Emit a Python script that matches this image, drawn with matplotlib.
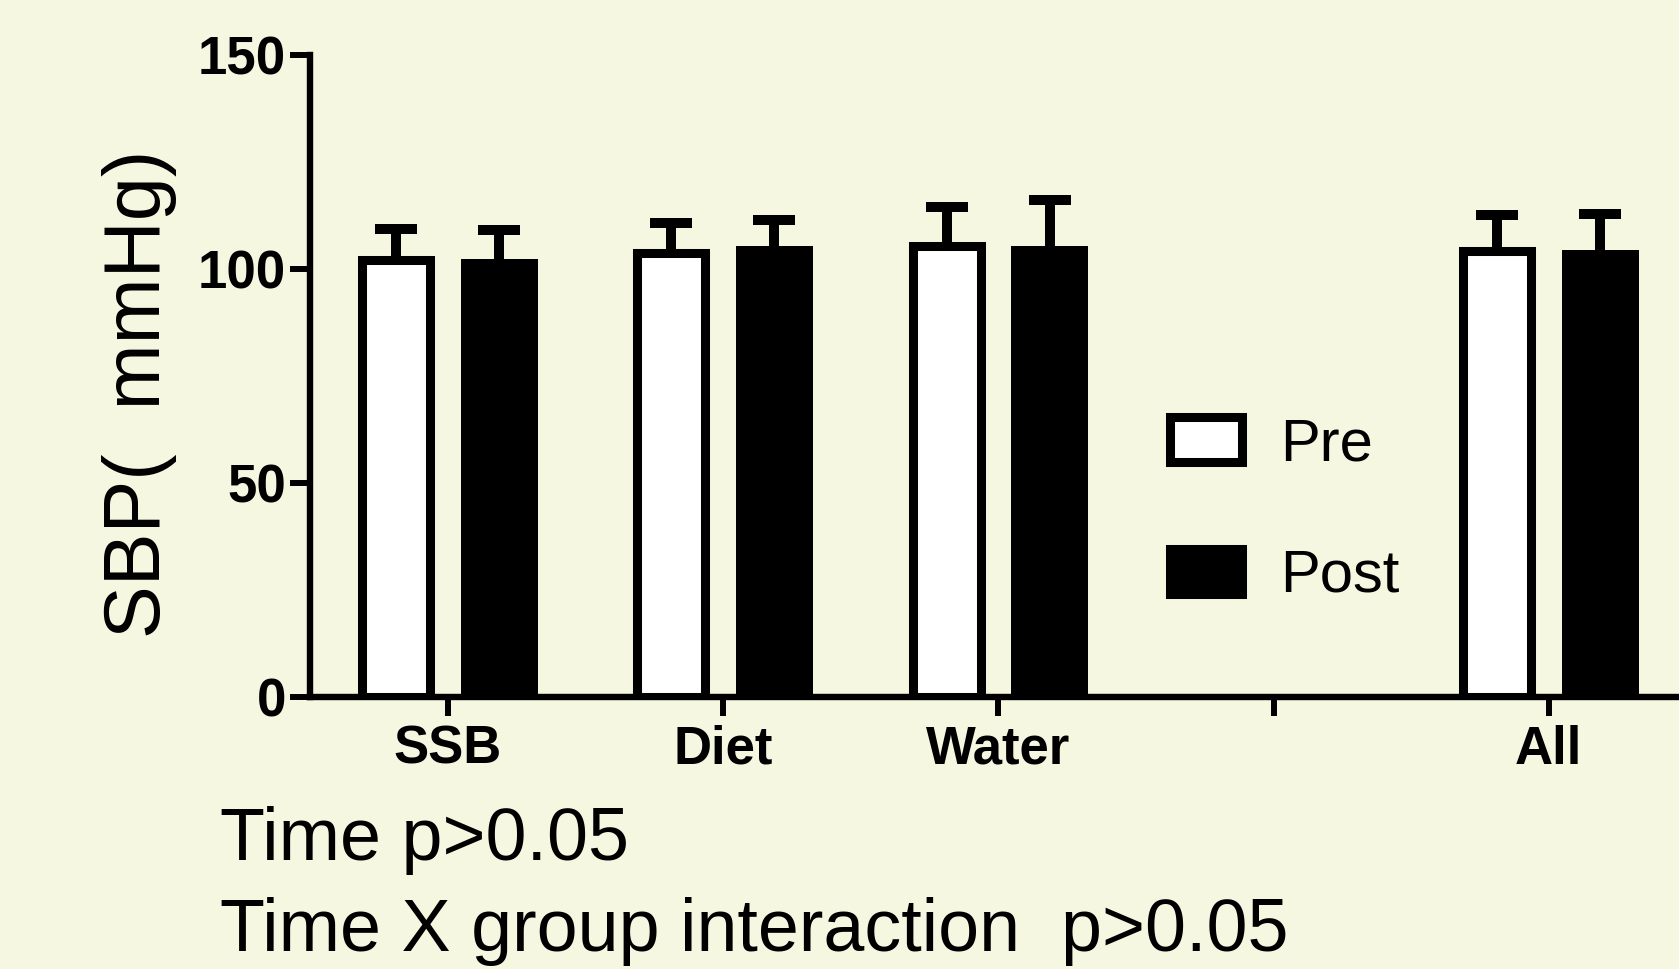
import numpy as np
import matplotlib
matplotlib.use("Agg")
import matplotlib.pyplot as plt
from matplotlib.patches import Patch

# ---- data ----
categories = ["SSB", "Diet", "Water", "", "All"]
pre_mean = [102.0, 103.7, 105.3, np.nan, 104.2]
post_mean = [102.4, 105.4, 105.3, np.nan, 104.4]
pre_sd = [7.3, 7.1, 9.2, np.nan, 8.4]
post_sd = [6.6, 6.0, 10.8, np.nan, 8.5]
series_labels = ["Pre", "Post"]
y_ticks = [0, 50, 100, 150]
note_lines = ["Time p>0.05", "Time X group interaction  p>0.05"]
y_label = "SBP(  mmHg)"

BG = "#F5F7E0"
W, H = 1679, 969
fig = plt.figure(figsize=(W / 100, H / 100), dpi=100, facecolor=BG)

left = 310 / W
bottom = 1 - 697 / H
top = 1 - 55 / H
right = 1686.5 / W
ax = fig.add_axes([left, bottom, right - left, top - bottom])
ax.set_facecolor(BG)

x = np.arange(len(categories))
off = 0.187
lw_edge = 6.5

ax.bar(x - off, pre_mean, width=0.247, color="white", edgecolor="black",
       linewidth=lw_edge, zorder=3)
ax.bar(x + off, post_mean, width=0.28, color="black", edgecolor="black",
       linewidth=0, zorder=3)

ekw = dict(fmt="none", ecolor="black", elinewidth=7.2, capsize=15.0,
           capthick=7.2, zorder=2)
for xs, m, sd in [(x - off, pre_mean, pre_sd), (x + off, post_mean, post_sd)]:
    m_arr = np.asarray(m, dtype=float)
    sd_arr = np.asarray(sd, dtype=float)
    cont = ax.errorbar(xs, m_arr, yerr=[np.zeros(len(sd_arr)), sd_arr], **ekw)
    # hide the zero-length lower caps that sit on the bar tops
    valid = m_arr[~np.isnan(m_arr)]
    for cap in cont[1]:
        yd = np.asarray(cap.get_ydata(), dtype=float)
        yd = yd[~np.isnan(yd)]
        if yd.size == valid.size and np.allclose(yd, valid):
            cap.set_visible(False)

ax.set_xlim(-0.5, 4.5)
ax.set_ylim(0, 150)
ax.set_yticks(y_ticks)
ax.set_xticks(x)
ax.set_xticklabels(categories)

for s in ["top", "right"]:
    ax.spines[s].set_visible(False)
for s in ["left", "bottom"]:
    ax.spines[s].set_linewidth(4.6)
    ax.spines[s].set_capstyle("projecting")

ax.tick_params(axis="y", length=14.4, width=4.3, pad=3, direction="out")
ax.tick_params(axis="x", length=14, width=4.3, pad=6, direction="out")
for lab in ax.get_xticklabels() + ax.get_yticklabels():
    lab.set_fontfamily(["Liberation Sans", "DejaVu Sans"])
    lab.set_fontweight("bold")
    lab.set_fontsize(38)

ax.set_ylabel(y_label, fontsize=57, fontweight="normal", va="baseline",
              family=["Liberation Sans", "DejaVu Sans"])
ax_w = right * W - left * W
ax.yaxis.set_label_coords((160 - 310) / ax_w, (697 - 394) / (697 - 55))

handles = [Patch(facecolor="white", edgecolor="black", linewidth=lw_edge),
           Patch(facecolor="black", edgecolor="black", linewidth=lw_edge)]
leg = fig.legend(handles, series_labels, loc="upper left",
                 bbox_to_anchor=(1170 / W, 1 - 417 / H), frameon=False,
                 prop=dict(family=["Liberation Sans", "DejaVu Sans"], size=43),
                 handlelength=1.2, handleheight=0.78, handletextpad=0.65,
                 labelspacing=1.28, borderpad=0, borderaxespad=0)

note_font = dict(family=["Liberation Sans", "DejaVu Sans"], size=53)
fig.text(219.5 / W, 1 - 860 / H, note_lines[0], va="baseline", ha="left", **note_font)
fig.text(219.5 / W, 1 - 951 / H, note_lines[1], va="baseline", ha="left", **note_font)

fig.savefig("out.png", dpi=100, facecolor=BG)
